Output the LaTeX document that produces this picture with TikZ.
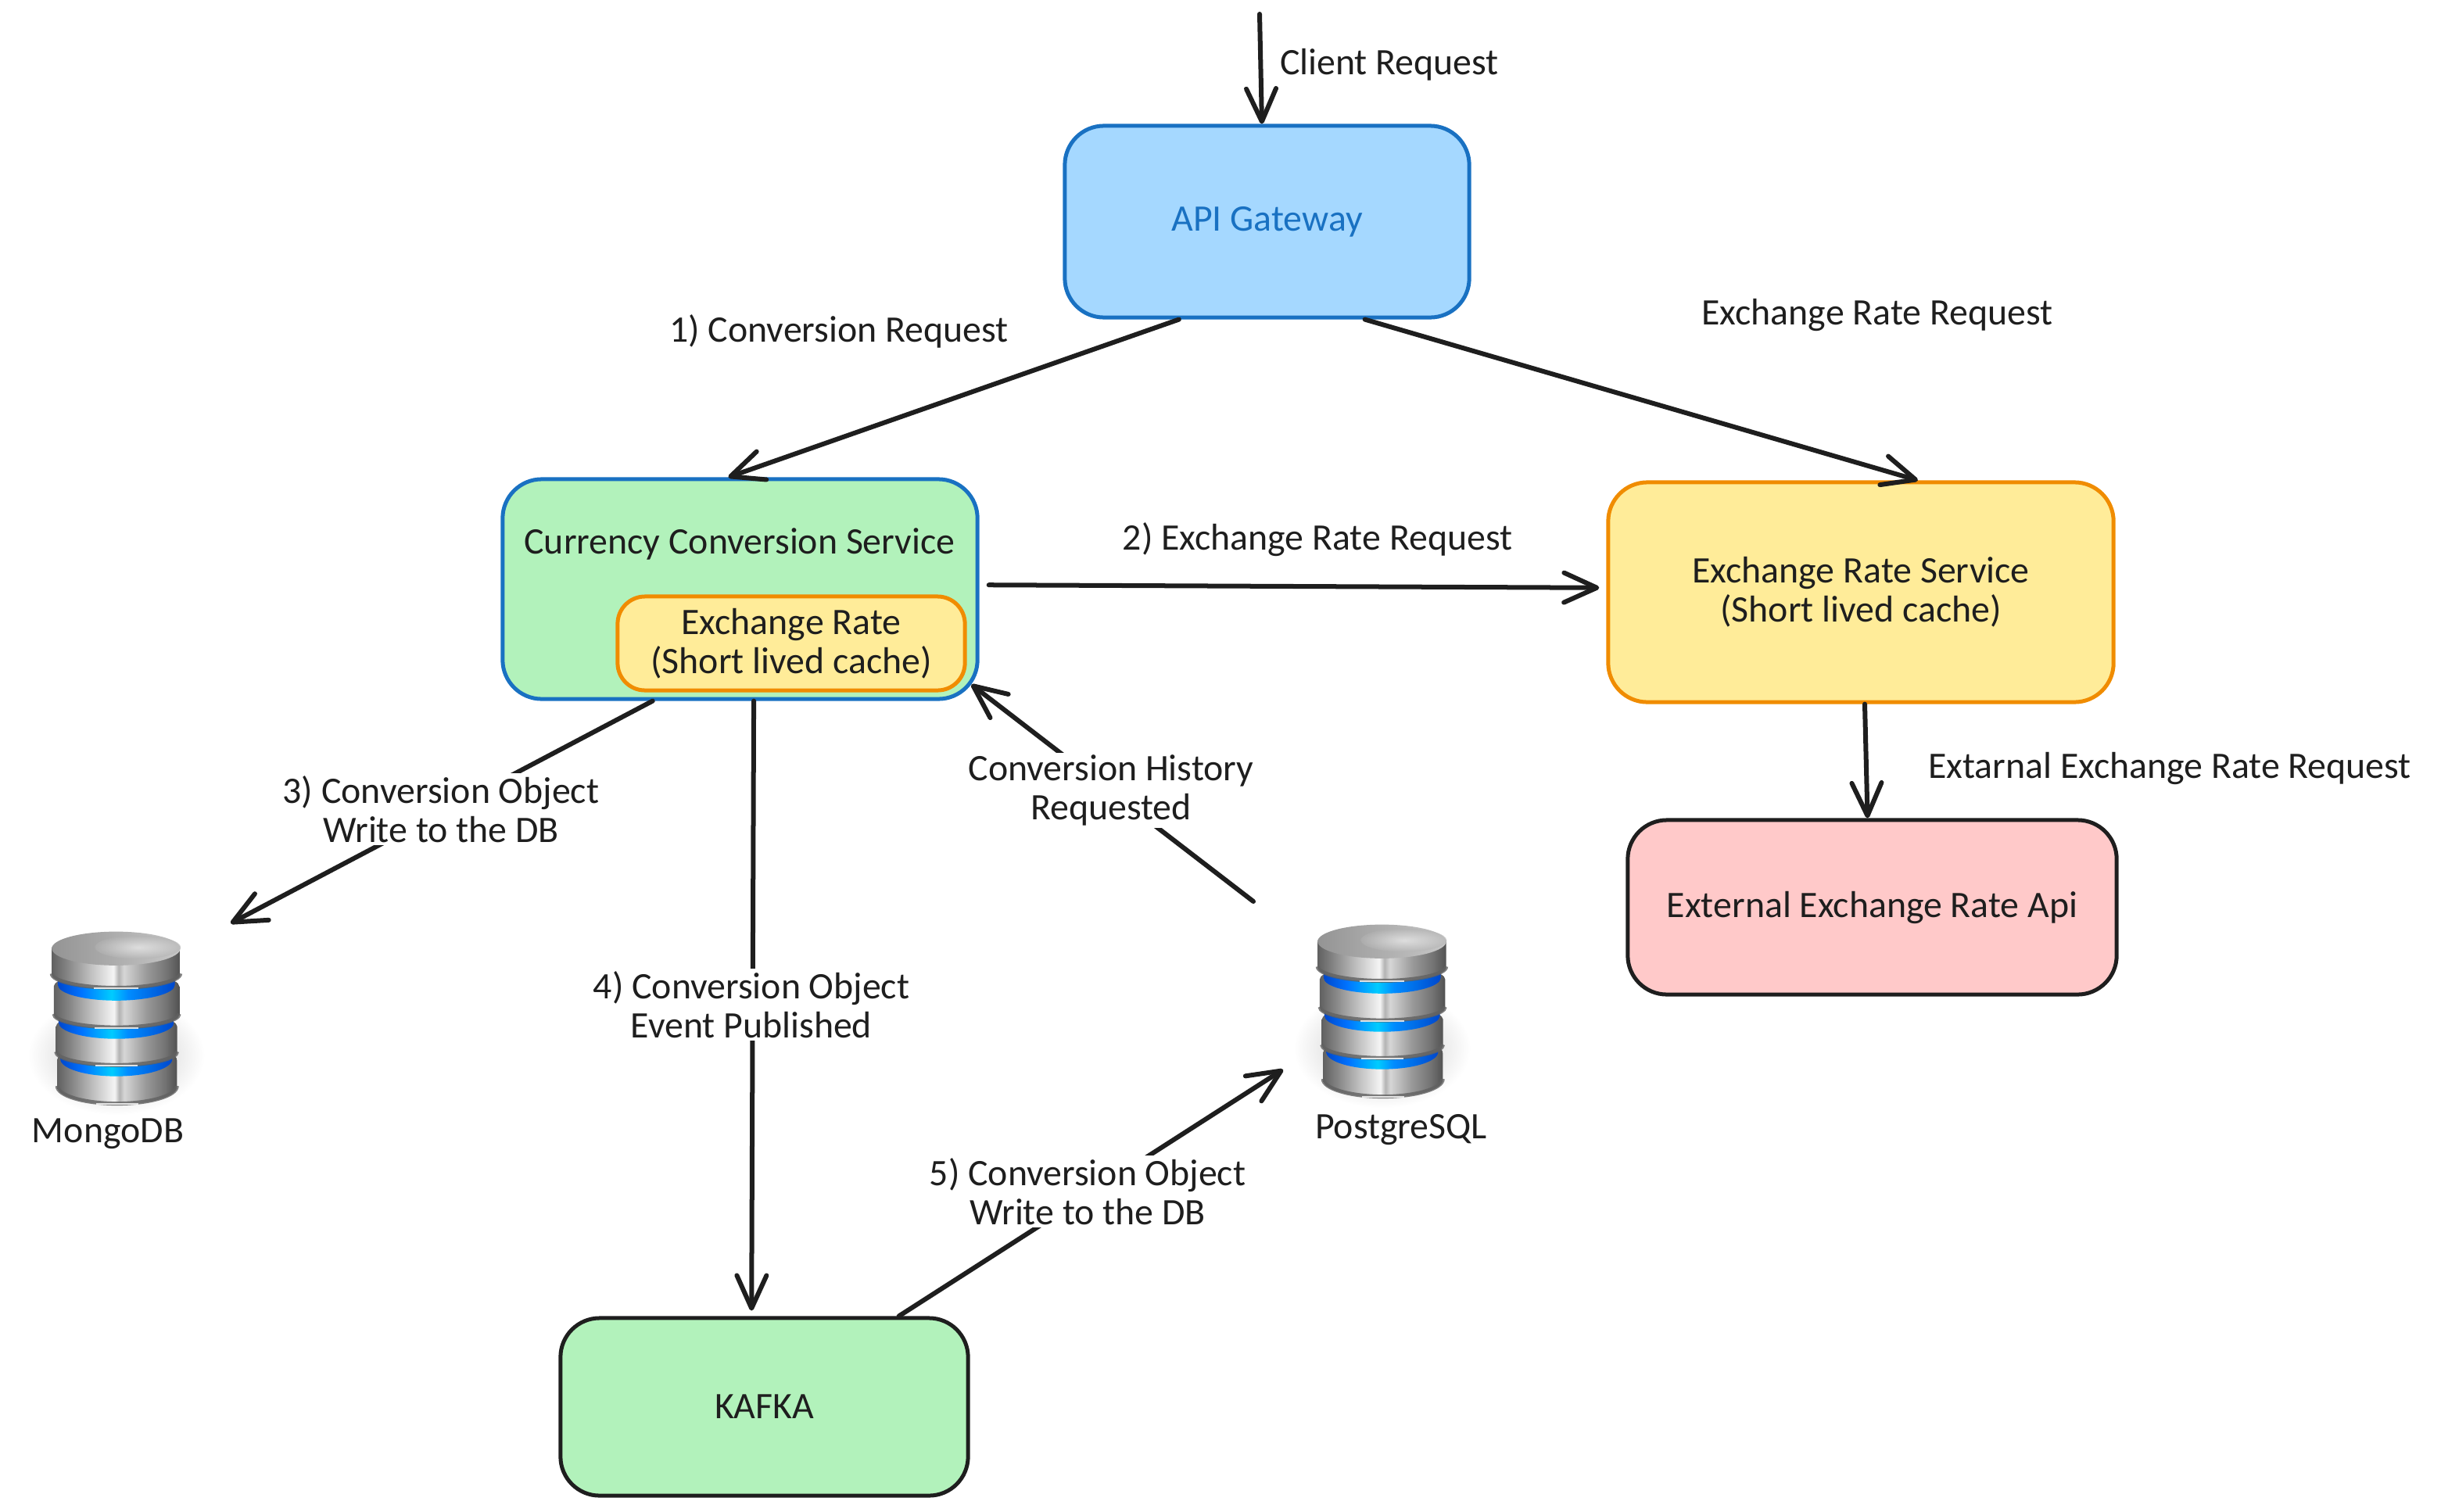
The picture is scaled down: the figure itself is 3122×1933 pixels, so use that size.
\documentclass[tikz,border=0pt]{standalone}
\usepackage{fontspec}
\setmainfont{Carlito}
\usetikzlibrary{arrows.meta}
\definecolor{inkline}{HTML}{1E1E1E}
\definecolor{bluefill}{HTML}{A5D8FF}
\definecolor{blueline}{HTML}{1971C2}
\definecolor{greenfill}{HTML}{B2F2BB}
\definecolor{yellowfill}{HTML}{FFEC99}
\definecolor{orangeline}{HTML}{F08C00}
\definecolor{redfill}{HTML}{FFC9C9}
\pgfdeclarehorizontalshading{metalshade}{100bp}{color(0bp)=(black!62); color(25bp)=(black!62); color(31bp)=(black!48); color(40bp)=(black!25); color(49bp)=(black!4); color(51bp)=(black!30); color(53bp)=(black!16); color(62bp)=(black!40); color(70bp)=(black!55); color(75bp)=(black!68); color(100bp)=(black!68)}
\pgfdeclarehorizontalshading{ringshade}{100bp}{color(0bp)=(blue!65!cyan!80!black); color(25bp)=(blue!65!cyan!80!black); color(35bp)=(blue!55!cyan); color(48bp)=(cyan!80!blue); color(55bp)=(blue!45!cyan); color(75bp)=(blue!65!cyan!80!black); color(100bp)=(blue!65!cyan!80!black)}
\newcommand{\dblayer}[6]{
	\path[shading=#6] ({#1-#2},{-#3}) -- ({#1-#2},{-#4}) arc (180:360:#2 and #5) -- ({#1+#2},{-#3}) arc (0:180:#2 and #5) -- cycle;
}
\newcommand{\dblip}[4]{
	\draw[black!62, line width=0.05cm, opacity=0.8] ({#1-#2},{-#3+4}) arc (180:360:#2 and #4);
	\draw[white, line width=0.02cm, opacity=0.8] ({#1-#2*0.35},{-#3-#4*0.94-2}) -- ({#1+#2*0.35},{-#3-#4*0.94-2});
}
\tikzset{
	card/.style={draw, rounded corners=0.5cm, line width=0.05cm, text=inkline, align=center, inner sep=0pt},
	flowline/.style={draw=inkline, line width=0.06cm, line cap=round, -{Straight Barb[length=0.42cm, width=0.38cm, round]}},
	flowtext/.style={text=inkline, align=center, fill=white, inner sep=0.03cm},
	plaintext/.style={text=inkline, align=center, inner sep=0pt},
	dbstack/.pic={
		\begin{scope}[x=0.003333cm, y=0.003333cm]
			\path[shading=radial, inner color=black!25, outer color=white] (447,-600) ellipse (340 and 230);
			
			\dblayer{450}{230}{620}{722}{68}{metalshade};
			\dblip{450}{230}{722}{68}
			\dblayer{447}{215}{590}{615}{66}{ringshade};
			\dblayer{448}{233}{490}{590}{52}{metalshade};
			\dblip{448}{233}{590}{52}
			\dblayer{447}{222}{450}{475}{62}{ringshade};
			\dblayer{448}{241}{335}{445}{52}{metalshade};
			\dblip{448}{241}{445}{52}
			\dblayer{447}{225}{310}{330}{60}{ringshade};
			\dblayer{446}{247}{190}{290}{55}{metalshade};
			\dblip{446}{247}{290}{55}
			
			\path[left color=black!42, right color=black!22] (446,-190) ellipse (247 and 65);
			\path[shading=radial, inner color=white, outer color=black!30, opacity=0.55] (530,-185) ellipse (165 and 45);
		\end{scope}
	}
}

\begin{document}
\begin{tikzpicture}[x=0.01cm, y=-0.01cm]
	%%%%% START %%%%%
	\useasboundingbox (0, 0) rectangle (3122, 1933);
	\fontsize{13.6}{14.2}\selectfont
	
	\node[card, fill=bluefill, draw=blueline, text=blueline, minimum width=5.17cm, minimum height=2.45cm] (gateway) at (1620.5, 283.5) {API Gateway};
	
	\node[card, fill=greenfill, draw=blueline, minimum width=6.07cm, minimum height=2.81cm] (conversion) at (946.5, 753.5) {};
	\node[plaintext] (conversiontext) at (946, 696) {Currency Conversion Service};
	\node[card, fill=yellowfill, draw=orangeline, rounded corners=0.35cm, minimum width=4.44cm, minimum height=1.20cm] (ratecache) at (1012, 823) {Exchange Rate\\(Short lived cache)};
	
	\node[card, fill=yellowfill, draw=orangeline, minimum width=6.46cm, minimum height=2.81cm] (rateservice) at (2380, 757.5) {Exchange Rate Service\\(Short lived cache)};
	\node[card, fill=redfill, draw=inkline, minimum width=6.25cm, minimum height=2.23cm] (externalapi) at (2394.5, 1160.5) {External Exchange Rate Api};
	\node[card, fill=greenfill, draw=inkline, minimum width=5.21cm, minimum height=2.27cm] (kafka) at (977.5, 1799.5) {KAFKA};
	
	\pic at (0, 1150) {dbstack};
	\pic at (1619, 1141) {dbstack};
	\node[plaintext] (mongodb) at (138, 1450) {MongoDB};
	\node[plaintext] (postgres) at (1792, 1445) {PostgreSQL};
	
	\coordinate (clienttop) at (1611, 18);
	\coordinate (mongotip) at (295, 1181);
	\coordinate (pgtip) at (1641, 1368);
	\coordinate (pgtail) at (1603, 1153);
	
	\draw[flowline] (clienttop) -- (gateway.93.4);
	\draw[flowline] (gateway.228.2) -- (conversion.96.3);
	\draw[flowline] (gateway.315.5) -- (rateservice.63.8);
	\draw[flowline, shorten <=0.12cm, shorten >=0.09cm] (conversion.1.6) -- (rateservice.179.5);
	\draw[flowline] (conversion.232.7) -- (mongotip);
	\draw[flowline, shorten >=0.07cm] (conversion.277.5) -- (kafka.98.3);
	\draw[flowline, shorten >=-0.13cm] (pgtail) -- (conversion.-23);
	\draw[flowline] (kafka.34) -- (pgtip);
	\draw[flowline] (rateservice.272.8) -- (externalapi.93.5);
	
	\node[plaintext] (clientlabel) at (1777, 83) {Client Request};
	\node[plaintext] (convlabel) at (1073, 424) {1) Conversion Request};
	\node[plaintext] (ratelabel) at (2401, 403) {Exchange Rate Request};
	\node[plaintext] (askratelabel) at (1685, 690) {2) Exchange Rate Request};
	\node[flowtext] (mongolabel) at (564, 1035) {3) Conversion Object\\Write to the DB};
	\node[flowtext] (eventlabel) at (961, 1285) {4) Conversion Object\\Event Published};
	\node[flowtext] (pglabel) at (1391, 1524) {5) Conversion Object\\Write to the DB};
	\node[flowtext] (historylabel) at (1421, 1011) {Conversion History\\Requested};
	\node[plaintext] (externallabel) at (2775, 983) {Extarnal Exchange Rate Request};
	%%%%% END %%%%%
\end{tikzpicture}
\end{document}
